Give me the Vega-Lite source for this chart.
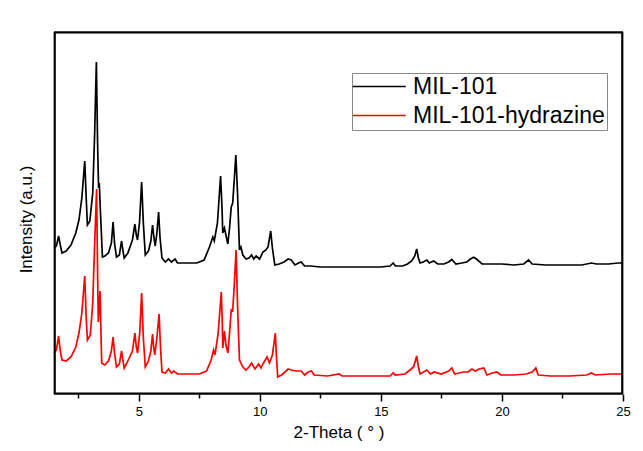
{
  "$schema": "https://vega.github.io/schema/vega-lite/v6.json",
  "width": 569,
  "height": 362,
  "autosize": {"type": "none"},
  "padding": {"left": 54, "top": 32, "right": 20, "bottom": 57},
  "background": "white",
  "config": {
    "view": {"stroke": null},
    "font": "Arial, Liberation Sans, sans-serif"
  },
  "datasets": {
    "black": [
      [1.5,145],[1.6,147],[1.69,157],[1.76,148],[1.83,140],[2.0,142],[2.2,148],[2.4,160],[2.53,173],[2.65,195],[2.77,232],[2.83,195],[2.88,168],[2.98,172],[3.1,200],[3.18,260],[3.25,331],[3.3,250],[3.34,205],[3.37,210],[3.42,180],[3.5,136],[3.6,137],[3.75,140],[3.87,150],[3.94,171],[4.0,150],[4.08,136],[4.2,138],[4.29,152],[4.35,142],[4.4,135],[4.55,140],[4.74,153],[4.84,169],[4.9,158],[4.95,153],[5.03,170],[5.12,211],[5.19,170],[5.27,138],[5.4,142],[5.5,152],[5.57,168],[5.63,155],[5.68,147],[5.75,160],[5.82,181],[5.88,155],[5.96,135],[6.1,131],[6.23,134],[6.35,131],[6.5,134],[6.6,130],[7.0,130],[7.4,130],[7.7,133],[7.92,146],[8.06,156],[8.12,152],[8.25,170],[8.38,217],[8.44,185],[8.47,160],[8.54,165],[8.6,158],[8.68,149],[8.75,165],[8.82,186],[8.88,190],[8.95,215],[9.01,238],[9.08,200],[9.16,143],[9.22,146],[9.3,138],[9.43,134],[9.55,135],[9.66,138],[9.75,134],[9.85,137],[9.99,134],[10.13,141],[10.25,143],[10.34,146],[10.45,162],[10.52,145],[10.62,128],[10.8,129],[11.0,131],[11.17,134],[11.3,133],[11.45,128],[11.6,130],[11.71,131],[11.85,127],[12.1,127],[12.5,126],[13.0,126],[13.5,126],[14.0,126],[14.5,126],[15.0,126],[15.38,127],[15.51,130],[15.6,127],[15.9,127],[16.1,129],[16.27,132],[16.4,137],[16.48,144],[16.55,135],[16.62,130],[16.75,131],[16.9,133],[17.0,130],[17.18,132],[17.35,129],[17.6,129],[17.8,131],[17.93,133.5],[18.1,129],[18.35,130],[18.55,131],[18.7,134],[18.83,135.7],[18.95,134],[19.18,129],[19.6,129],[20.0,129],[20.5,128],[20.9,129],[21.1,133],[21.25,129],[21.8,128],[22.5,128],[23.3,128],[23.7,130],[23.9,129],[24.4,129],[24.8,130],[25.0,130]
    ],
    "red": [
      [1.5,40],[1.6,43],[1.69,57],[1.76,42],[1.83,33],[2.0,32],[2.2,36],[2.4,46],[2.53,60],[2.65,80],[2.77,117],[2.83,75],[2.88,53],[3.0,58],[3.1,90],[3.18,150],[3.26,204],[3.3,120],[3.33,71],[3.4,102],[3.44,60],[3.47,30],[3.6,28],[3.75,32],[3.87,42],[3.94,56],[4.0,40],[4.08,26],[4.2,29],[4.29,42],[4.35,32],[4.4,25],[4.55,32],[4.74,42],[4.84,60],[4.9,46],[4.95,40],[5.04,60],[5.12,100],[5.19,55],[5.27,26],[5.4,32],[5.5,42],[5.57,59],[5.62,45],[5.66,38],[5.75,55],[5.84,79],[5.9,45],[5.96,21],[6.1,20],[6.23,24],[6.35,20],[6.45,22],[6.6,19],[7.0,19],[7.5,19],[7.8,22],[7.99,33],[8.09,43],[8.15,38],[8.28,60],[8.41,101],[8.45,70],[8.47,45],[8.54,62],[8.6,48],[8.68,40],[8.75,60],[8.82,83],[8.88,82],[8.95,110],[9.02,143],[9.09,80],[9.16,33],[9.22,30],[9.3,26],[9.43,23],[9.55,26],[9.66,30],[9.8,24],[9.95,29],[10.05,25],[10.15,30],[10.3,36],[10.4,30],[10.52,38],[10.64,60],[10.69,35],[10.74,16],[10.9,18],[11.17,24],[11.3,23],[11.5,22],[11.71,22],[11.85,18],[12.0,21],[12.13,22],[12.25,18],[12.8,17],[13.28,19],[13.4,17],[14.0,17],[14.5,17],[15.38,17],[15.51,20],[15.6,18],[16.0,19],[16.2,23],[16.35,26],[16.48,37],[16.55,26],[16.62,19],[16.9,23],[17.05,19],[17.2,21],[17.5,19],[17.8,22],[17.93,25],[18.05,19],[18.4,21],[18.6,21],[18.76,24],[18.9,22],[19.05,24],[19.25,25],[19.38,18],[19.6,20],[19.8,21],[19.95,18],[20.5,18],[21.0,19],[21.25,21],[21.4,25],[21.5,18],[22.0,17],[22.8,17],[23.5,18],[23.7,20],[23.85,18],[24.5,19],[25.0,19]
    ],
    "frame": [
      {"xa": 1.5, "xb": 25, "ya": 360.6, "yb": 360.6},
      {"xa": 24.97, "xb": 24.97, "ya": -1, "yb": 361},
      {"xa": 1.5, "xb": 25, "ya": -0.6, "yb": -0.6},
      {"xa": 1.53, "xb": 1.53, "ya": -1, "yb": 361}
    ]
  },
  "layer": [
    {
      "data": {"name": "black"},
      "transform": [
        {"calculate": "datum[0]", "as": "theta"},
        {"calculate": "datum[1]", "as": "intensity"},
        {"calculate": "'MIL-101'", "as": "sample"}
      ],
      "mark": {"type": "line", "strokeWidth": 1.7, "interpolate": "linear"},
      "encoding": {
        "x": {"field": "theta", "type": "quantitative"},
        "y": {"field": "intensity", "type": "quantitative"},
        "color": {"field": "sample", "type": "nominal"}
      }
    },
    {
      "data": {"name": "red"},
      "transform": [
        {"calculate": "datum[0]", "as": "theta"},
        {"calculate": "datum[1]", "as": "intensity"},
        {"calculate": "'MIL-101-hydrazine'", "as": "sample"}
      ],
      "mark": {"type": "line", "strokeWidth": 1.7, "interpolate": "linear"},
      "encoding": {
        "x": {
          "field": "theta", "type": "quantitative",
          "scale": {"domain": [1.5, 25], "nice": false, "zero": false},
          "axis": {
            "title": "2-Theta ( ° )",
            "values": [2.5, 5, 7.5, 10, 12.5, 15, 17.5, 20, 22.5, 25],
            "labelExpr": "datum.value % 5 === 0 ? datum.label : ''",
            "tickSize": {"condition": {"test": "datum.value % 5 === 0", "value": 7}, "value": 4},
            "tickColor": "black", "tickWidth": 1.5,
            "domain": false, "grid": false,
            "labelFontSize": 13, "labelColor": "black", "labelPadding": 4, "labelFlush": false,
            "titleFontSize": 17, "titleFontWeight": "normal", "titleColor": "black", "titlePadding": 6
          }
        },
        "y": {
          "field": "intensity", "type": "quantitative",
          "scale": {"domain": [-1, 361], "nice": false, "zero": false},
          "axis": {
            "title": "Intensity (a.u.)",
            "domain": false, "ticks": false, "labels": false, "grid": false,
            "titleFontSize": 17, "titleFontWeight": "normal", "titleColor": "black",
            "titleX": -28, "titleY": 187, "titleAngle": -90, "titleAlign": "center", "titleBaseline": "middle"
          }
        },
        "color": {
          "field": "sample", "type": "nominal",
          "scale": {"domain": ["MIL-101", "MIL-101-hydrazine"], "range": ["black", "#ff0000"]},
          "legend": {
            "title": null, "orient": "none", "legendX": 298, "legendY": 41,
            "strokeColor": "#888", "padding": 2,
            "symbolType": "M-1.2,0H3.8", "symbolSize": 450, "symbolStrokeWidth": 1.7,
            "labelFontSize": 23, "labelColor": "black", "labelOffset": 36, "rowPadding": 5,
            "labelLimit": 400
          }
        }
      }
    },
    {
      "data": {"name": "frame"},
      "mark": {"type": "rule", "color": "black", "strokeWidth": 2.2},
      "encoding": {
        "x": {"field": "xa", "type": "quantitative"},
        "x2": {"field": "xb"},
        "y": {"field": "ya", "type": "quantitative"},
        "y2": {"field": "yb"}
      }
    }
  ]
}
